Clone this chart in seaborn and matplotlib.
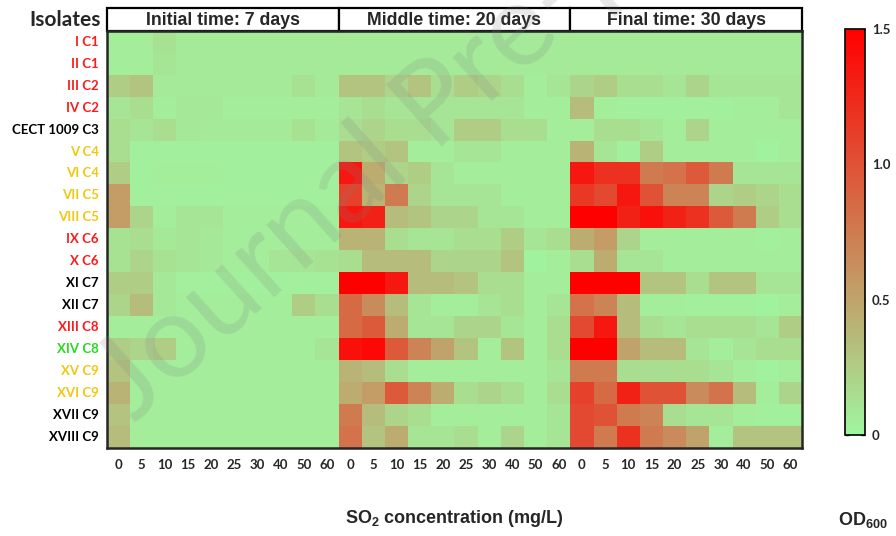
import numpy as np
import seaborn as sns
import matplotlib.pyplot as plt
from matplotlib.colors import LinearSegmentedColormap
from matplotlib.patches import Rectangle

isolates = ["I C1", "II C1", "III C2", "IV C2", "CECT 1009 C3", "V C4", "VI C4",
            "VII C5", "VIII C5", "IX C6", "X C6", "XI C7", "XII C7", "XIII C8",
            "XIV C8", "XV C9", "XVI C9", "XVII C9", "XVIII C9"]
label_colors = ["#ff1a1a", "#ff1a1a", "#ff1a1a", "#ff1a1a", "black", "#f2c80f", "#f2c80f",
                "#f2c80f", "#f2c80f", "#ff1a1a", "#ff1a1a", "black", "black", "#ff1a1a",
                "#22dd22", "#f2c80f", "#f2c80f", "black", "black"]
conc = [0, 5, 10, 15, 20, 25, 30, 40, 50, 60]
times = ["Initial time: 7 days", "Middle time: 20 days", "Final time: 30 days"]

# OD600, one row per isolate, one column per SO2 level
od_7 = [
    [0.05, 0.05, 0.12, 0.07, 0.07, 0.07, 0.07, 0.07, 0.07, 0.07],
    [0.05, 0.05, 0.10, 0.07, 0.07, 0.07, 0.07, 0.07, 0.07, 0.07],
    [0.25, 0.30, 0.07, 0.07, 0.07, 0.07, 0.07, 0.07, 0.12, 0.07],
    [0.10, 0.15, 0.05, 0.08, 0.08, 0.05, 0.05, 0.05, 0.05, 0.05],
    [0.15, 0.10, 0.15, 0.08, 0.07, 0.07, 0.07, 0.07, 0.12, 0.07],
    [0.15, 0.03, 0.03, 0.03, 0.03, 0.03, 0.03, 0.03, 0.03, 0.03],
    [0.25, 0.03, 0.05, 0.05, 0.05, 0.03, 0.03, 0.03, 0.03, 0.03],
    [0.55, 0.03, 0.03, 0.03, 0.03, 0.03, 0.03, 0.03, 0.03, 0.03],
    [0.55, 0.20, 0.05, 0.10, 0.10, 0.05, 0.05, 0.05, 0.05, 0.05],
    [0.12, 0.15, 0.08, 0.10, 0.08, 0.05, 0.05, 0.05, 0.05, 0.05],
    [0.12, 0.20, 0.12, 0.10, 0.08, 0.05, 0.05, 0.10, 0.10, 0.12],
    [0.25, 0.25, 0.08, 0.03, 0.03, 0.03, 0.03, 0.03, 0.03, 0.03],
    [0.20, 0.35, 0.08, 0.05, 0.05, 0.05, 0.05, 0.05, 0.25, 0.15],
    [0.05, 0.05, 0.05, 0.05, 0.05, 0.05, 0.05, 0.05, 0.05, 0.05],
    [0.25, 0.20, 0.25, 0.05, 0.05, 0.05, 0.05, 0.05, 0.05, 0.10],
    [0.30, 0.05, 0.05, 0.05, 0.05, 0.05, 0.05, 0.05, 0.05, 0.05],
    [0.40, 0.05, 0.05, 0.05, 0.05, 0.05, 0.05, 0.05, 0.05, 0.05],
    [0.30, 0.05, 0.05, 0.05, 0.05, 0.05, 0.05, 0.05, 0.05, 0.05],
    [0.35, 0.05, 0.05, 0.05, 0.05, 0.05, 0.05, 0.05, 0.05, 0.05],
]
od_20 = [
    [0.07, 0.07, 0.07, 0.07, 0.07, 0.07, 0.07, 0.07, 0.07, 0.07],
    [0.07, 0.07, 0.07, 0.07, 0.07, 0.07, 0.07, 0.07, 0.07, 0.07],
    [0.30, 0.30, 0.20, 0.30, 0.15, 0.25, 0.20, 0.15, 0.05, 0.10],
    [0.10, 0.15, 0.10, 0.10, 0.10, 0.10, 0.10, 0.10, 0.05, 0.05],
    [0.15, 0.20, 0.15, 0.15, 0.10, 0.25, 0.25, 0.15, 0.15, 0.05],
    [0.30, 0.25, 0.30, 0.05, 0.05, 0.10, 0.10, 0.05, 0.05, 0.05],
    [1.35, 0.45, 0.20, 0.25, 0.10, 0.05, 0.05, 0.05, 0.05, 0.05],
    [1.10, 0.40, 0.75, 0.20, 0.10, 0.10, 0.10, 0.05, 0.05, 0.05],
    [1.35, 1.30, 0.35, 0.30, 0.20, 0.20, 0.10, 0.10, 0.05, 0.05],
    [0.40, 0.40, 0.15, 0.10, 0.10, 0.15, 0.15, 0.25, 0.10, 0.15],
    [0.15, 0.35, 0.35, 0.35, 0.20, 0.20, 0.20, 0.30, 0.02, 0.05],
    [1.50, 1.50, 1.35, 0.35, 0.35, 0.30, 0.15, 0.15, 0.05, 0.05],
    [0.85, 0.65, 0.35, 0.10, 0.05, 0.05, 0.10, 0.15, 0.05, 0.10],
    [0.85, 0.95, 0.45, 0.10, 0.10, 0.20, 0.20, 0.10, 0.05, 0.15],
    [1.40, 1.45, 0.95, 0.70, 0.50, 0.30, 0.05, 0.30, 0.05, 0.15],
    [0.40, 0.35, 0.15, 0.05, 0.05, 0.05, 0.05, 0.05, 0.05, 0.10],
    [0.45, 0.55, 0.95, 0.70, 0.45, 0.15, 0.20, 0.15, 0.05, 0.15],
    [0.75, 0.35, 0.20, 0.15, 0.05, 0.05, 0.05, 0.05, 0.05, 0.10],
    [0.80, 0.30, 0.45, 0.10, 0.10, 0.15, 0.05, 0.20, 0.05, 0.10],
]
od_30 = [
    [0.07, 0.07, 0.07, 0.07, 0.07, 0.07, 0.07, 0.07, 0.07, 0.07],
    [0.07, 0.07, 0.07, 0.07, 0.07, 0.07, 0.07, 0.07, 0.07, 0.07],
    [0.20, 0.25, 0.15, 0.15, 0.10, 0.20, 0.10, 0.10, 0.10, 0.10],
    [0.35, 0.05, 0.03, 0.03, 0.03, 0.03, 0.03, 0.05, 0.05, 0.10],
    [0.05, 0.15, 0.15, 0.10, 0.05, 0.20, 0.05, 0.05, 0.05, 0.05],
    [0.40, 0.10, 0.03, 0.25, 0.05, 0.05, 0.05, 0.05, 0.02, 0.05],
    [1.35, 1.20, 1.20, 0.75, 0.80, 0.95, 0.75, 0.10, 0.10, 0.10],
    [1.15, 1.05, 1.35, 1.00, 0.70, 0.70, 0.20, 0.25, 0.20, 0.15],
    [1.50, 1.50, 1.30, 1.40, 1.30, 1.20, 0.95, 0.75, 0.25, 0.15],
    [0.45, 0.55, 0.20, 0.05, 0.05, 0.05, 0.05, 0.05, 0.03, 0.05],
    [0.15, 0.45, 0.10, 0.10, 0.05, 0.05, 0.05, 0.05, 0.05, 0.05],
    [1.50, 1.50, 1.50, 0.30, 0.30, 0.15, 0.30, 0.30, 0.10, 0.10],
    [0.80, 0.70, 0.35, 0.05, 0.05, 0.03, 0.03, 0.03, 0.02, 0.05],
    [1.05, 1.35, 0.35, 0.15, 0.10, 0.15, 0.15, 0.15, 0.10, 0.25],
    [1.50, 1.50, 0.50, 0.35, 0.35, 0.10, 0.05, 0.10, 0.15, 0.15],
    [0.75, 0.75, 0.15, 0.15, 0.15, 0.15, 0.10, 0.05, 0.02, 0.05],
    [1.10, 0.85, 1.30, 1.00, 1.00, 0.65, 0.80, 0.35, 0.05, 0.20],
    [1.05, 1.00, 0.75, 0.70, 0.15, 0.10, 0.10, 0.05, 0.03, 0.03],
    [1.05, 0.75, 1.20, 0.75, 0.65, 0.50, 0.05, 0.30, 0.30, 0.30],
]

sns.set_style("white")
plt.rcParams['font.family'] = ['Lato', 'DejaVu Sans']
plt.rcParams['mathtext.fontset'] = 'custom'
plt.rcParams['mathtext.bf'] = 'Liberation Sans:bold'

data = np.hstack([od_7, od_20, od_30])
cmap = LinearSegmentedColormap.from_list("od", ["#a0f5a0", "#ff0000"])

fig = plt.figure(figsize=(8.96, 5.36), dpi=100)
ax = fig.add_axes([0.1194, 0.1642, 0.7757, 0.7785])
cax = fig.add_axes([0.943, 0.1884, 0.0223, 0.7575])

sns.heatmap(data, ax=ax, cmap=cmap, vmin=0, vmax=1.5, cbar_ax=cax,
            xticklabels=conc * 3, yticklabels=isolates,
            cbar_kws={'ticks': [0, 0.5, 1.0, 1.5]})

ax.tick_params(length=0, pad=8)
ax.set_xticklabels(conc * 3, rotation=0, fontsize=9.5, fontweight='bold')
ax.set_yticklabels(isolates, rotation=0, fontsize=9.5, fontweight='bold')
ax.tick_params(axis='y', pad=6)
for lab, c in zip(ax.get_yticklabels(), label_colors):
    lab.set_color(c)
for sp in ax.spines.values():
    sp.set_visible(True)
    sp.set_linewidth(1.8)

# header boxes above each time block
for i, t in enumerate(times):
    ax.add_patch(Rectangle((i * 10, -1.05), 10, 1.05, facecolor='white', edgecolor='black',
                           lw=1.6, clip_on=False))
    ax.text(i * 10 + 5, -0.48, t, ha='center', va='center', fontsize=12.8,
            fontweight='bold', family='Liberation Sans')
ax.text(-0.25, -0.5, "Isolates", ha='right', va='center', fontsize=15, fontweight='bold')

# colorbar
cbar = ax.collections[0].colorbar
cbar.set_ticklabels(["0", "0.5", "1.0", "1.5"], fontsize=9.5, fontweight='bold')
cax.tick_params(direction='in', length=3, width=1, left=True, right=True, pad=5)
cbar.outline.set_linewidth(1.2)
cbar.outline.set_edgecolor('black')

fig.text(0.507, 0.032, r"SO$_\mathbf{2}$ concentration (mg/L)", ha='center', va='center',
         fontsize=13, fontweight='bold', family='Liberation Sans')
fig.text(0.963, 0.030, r"OD$_\mathbf{600}$", ha='center', va='center',
         fontsize=13, fontweight='bold', family='Liberation Sans')

# journal watermark
fig.text(0.15, 0.21, "Journal Pre-proof", rotation=42, rotation_mode='anchor',
         fontsize=84, color='grey', alpha=0.18, ha='left', va='baseline')

plt.savefig("out.png", dpi=100)
